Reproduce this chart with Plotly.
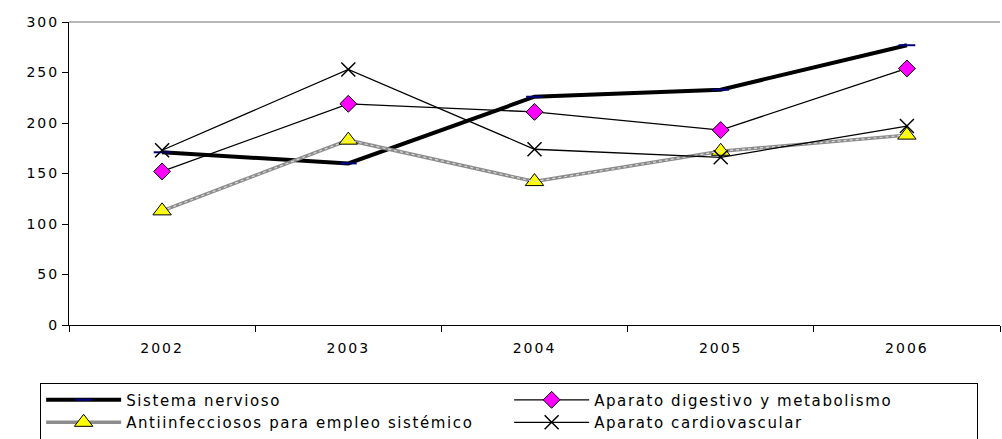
import plotly.graph_objects as go

years = ["2002", "2003", "2004", "2005", "2006"]
sistema_nervioso = [171, 160, 226, 233, 277]
aparato_digestivo = [152, 219, 211, 193, 254]
antiinfecciosos = [113, 183, 142, 172, 188]
aparato_cardiovascular = [173, 253, 174, 166, 197]
y_ticks = [0, 50, 100, 150, 200, 250, 300]

fig = go.Figure()
fig.add_trace(go.Scatter(
    x=years, y=sistema_nervioso, name="Sistema nervioso", mode="lines+markers",
    line=dict(color="black", width=4),
    marker=dict(symbol="line-ew", size=12, line=dict(color="#000080", width=2), color="#000080"),
))
fig.add_trace(go.Scatter(
    x=years, y=aparato_digestivo, name="Aparato digestivo y metabolismo", mode="lines+markers",
    line=dict(color="black", width=1.3),
    marker=dict(symbol="diamond", size=13, color="#FF00FF", line=dict(color="black", width=1)),
))
fig.add_trace(go.Scatter(
    x=years, y=antiinfecciosos, name="Antiinfecciosos para empleo sistémico", mode="lines+markers",
    line=dict(color="#8C8C8C", width=3.5),
    marker=dict(symbol="triangle-up", size=16, color="#FFFF00", line=dict(color="black", width=1)),
))
fig.add_trace(go.Scatter(
    x=years, y=antiinfecciosos, showlegend=False, mode="lines", hoverinfo="skip",
    line=dict(color="#D8D8D8", width=1.2, dash="dot"),
))
fig.add_trace(go.Scatter(
    x=years, y=aparato_cardiovascular, name="Aparato cardiovascular", mode="lines+markers",
    line=dict(color="black", width=1.3),
    marker=dict(symbol="x-thin", size=14, line=dict(color="black", width=1.5)),
))

tick_font = dict(family="DejaVu Sans, Verdana, Arial", size=14, color="black")
legend_font = dict(family="DejaVu Sans, Verdana, Arial", size=15, color="black")
fig.update_layout(
    width=1002, height=439,
    margin=dict(l=69, r=2, t=22, b=114, autoexpand=False),
    paper_bgcolor="white", plot_bgcolor="white",
    font=tick_font,
    showlegend=True,
    legend=dict(
        orientation="h", x=-0.031, y=-0.19, xanchor="left", yanchor="top",
        entrywidth=378, entrywidthmode="pixels", itemwidth=75,
        bordercolor="black", borderwidth=1, font=legend_font,
        tracegroupgap=0,
    ),
    xaxis=dict(
        range=[-0.5, 4.5],
        showline=True, linecolor="black", linewidth=1,
        ticks="outside", tickson="boundaries", ticklen=6, tickcolor="black",
        showgrid=False, zeroline=False, tickfont=tick_font, ticklabelstandoff=10,
    ),
    yaxis=dict(
        range=[0, 300], tickvals=y_ticks, showline=True, linecolor="black", linewidth=1,
        ticks="outside", ticklen=6, tickcolor="black", showgrid=False, zeroline=False,
        tickfont=tick_font,
    ),
)
fig.add_shape(type="line", xref="paper", yref="paper", x0=0, x1=1, y0=1, y1=1,
              line=dict(color="#A0A0A0", width=1.5))

post = (
    "document.body.style.margin='0';document.body.style.padding='0';"
    "var st=document.createElement('style');"
    "st.textContent='.xtick text,.ytick text{letter-spacing:2px}.legendtext{letter-spacing:1.6px}';"
    "document.head.appendChild(st);"
)
fig.write_html("out.html", post_script=post, config={"displayModeBar": False})
